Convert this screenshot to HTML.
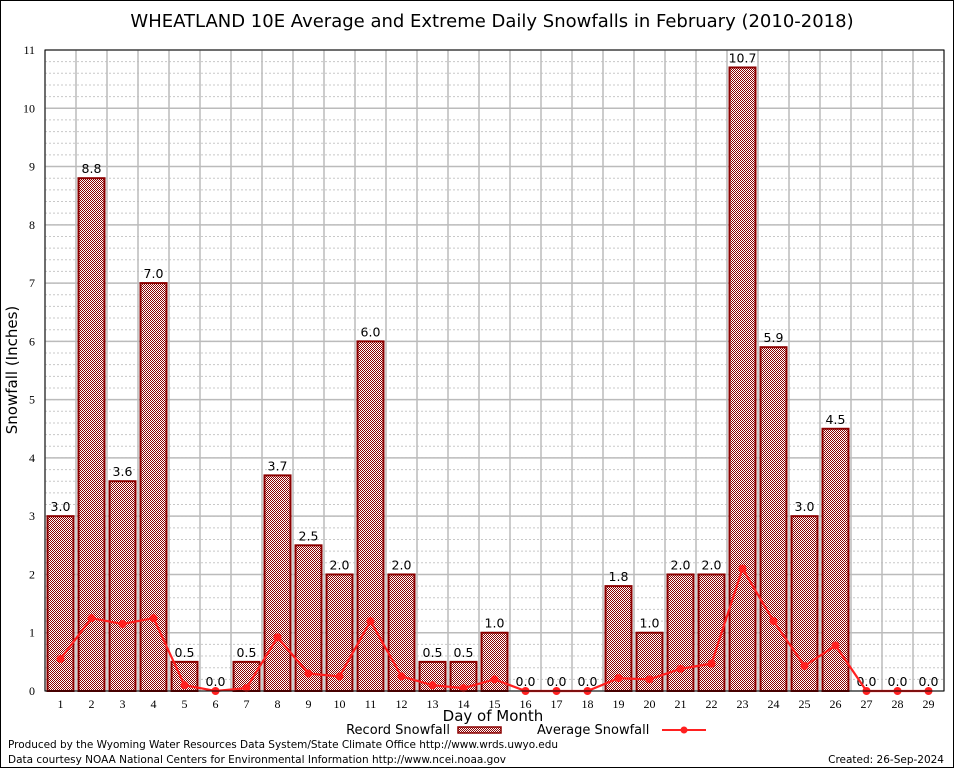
<!DOCTYPE html>
<html><head><meta charset="utf-8"><style>
body{margin:0;background:#fff}
svg{display:block;font-family:"DejaVu Sans","Liberation Sans",sans-serif}
</style></head><body>
<svg id="c" width="954" height="768" xmlns="http://www.w3.org/2000/svg">
<defs>
<pattern id="chk" width="2" height="2" patternUnits="userSpaceOnUse">
<rect width="2" height="2" fill="#fff"/><rect width="1" height="1" fill="#8b0000"/><rect x="1" y="1" width="1" height="1" fill="#8b0000"/>
</pattern>
</defs>
<rect x="0.5" y="0.5" width="953" height="767" fill="#fff" stroke="#000"/>
<text x="492" y="27" font-size="18" text-anchor="middle">WHEATLAND 10E Average and Extreme Daily Snowfalls in February (2010-2018)</text>
<g id="grid"></g>
<g id="bars"></g>
<g id="line"></g>
<g id="axes"></g>
<text x="17" y="370" font-size="15" text-anchor="middle" transform="rotate(-90 17 370)">Snowfall (Inches)</text>
<text x="493" y="721" font-size="15" text-anchor="middle">Day of Month</text>
<g>
<text x="450" y="734" font-size="13" text-anchor="end">Record Snowfall</text>
<rect x="458" y="727" width="43" height="6" fill="url(#chk)" stroke="#8b0000" stroke-width="1.5"/>
<text x="537" y="734" font-size="13">Average Snowfall</text>
<line x1="662" y1="730" x2="706" y2="730" stroke="#ff2020" stroke-width="2"/>
<circle cx="684" cy="730" r="3.5" fill="#ff2020"/>
</g>
<text x="8" y="748" font-size="10.5" textLength="550">Produced by the Wyoming Water Resources Data System/State Climate Office http://www.wrds.uwyo.edu</text>
<text x="8" y="763" font-size="10.5" textLength="498">Data courtesy NOAA National Centers for Environmental Information http://www.ncei.noaa.gov</text>
<text x="944" y="763" font-size="10.5" text-anchor="end">Created:  26-Sep-2024</text>
</svg>
<script>
const days = [1,2,3,4,5,6,7,8,9,10,11,12,13,14,15,16,17,18,19,20,21,22,23,24,25,26,27,28,29];
const recordSnow = [3.0,8.8,3.6,7.0,0.5,0.0,0.5,3.7,2.5,2.0,6.0,2.0,0.5,0.5,1.0,0.0,0.0,0.0,1.8,1.0,2.0,2.0,10.7,5.9,3.0,4.5,0.0,0.0,0.0];
const avgSnow = [0.55,1.25,1.15,1.25,0.1,0.0,0.05,0.92,0.3,0.25,1.2,0.25,0.1,0.05,0.2,0.0,0.0,0.0,0.22,0.2,0.38,0.47,2.1,1.2,0.43,0.78,0.0,0.0,0.0];
const yTicks = [0,1,2,3,4,5,6,7,8,9,10,11];

const NS='http://www.w3.org/2000/svg';
const L=45,R=944,T=50,B=691,yMax=11;
const step=(R-L)/days.length;
const x=d=>L+step*(d-0.5);
const y=v=>B-(B-T)*v/yMax;
function mk(tag,attrs,parent,txt){const e=document.createElementNS(NS,tag);for(const k in attrs)e.setAttribute(k,attrs[k]);if(txt!==undefined)e.textContent=txt;document.getElementById(parent).appendChild(e);return e;}

for(let v=0;v<yMax;v+=0.2){
  const yy=y(v);
  const e=mk('line',{x1:L,x2:R,y1:yy,y2:yy,stroke:'#c8c8c8','stroke-width':1,'stroke-dasharray':'2,2'},'grid');
  
  
}
yTicks.forEach(v=>{
  const e=mk('line',{x1:L,x2:R,y1:y(v),y2:y(v),stroke:'#bbb','stroke-width':1.5},'grid');
  
  
});
for(let i=0;i<=days.length;i++){
  const xx=L+step*i;
  const e=mk('line',{x1:xx,x2:xx,y1:T,y2:B,stroke:'#bbb','stroke-width':1.5},'grid');
  
  
}
days.forEach((d,i)=>{
  const v=recordSnow[i];
  if(v>0){
    const r=mk('rect',{x:x(d)-13,y:y(v),width:26,height:B-y(v),fill:'url(#chk)',stroke:'#8b0000','stroke-width':2},'bars');
    
    
  }
  const t=mk('text',{x:x(d),y:y(v)-5,'font-size':12.5,'text-anchor':'middle'},'bars',v.toFixed(1));
  
  
});
const pts=days.map((d,i)=>x(d)+','+y(avgSnow[i])).join(' ');
const pl=mk('polyline',{points:pts,fill:'none',stroke:'#ff2020','stroke-width':2.2},'line');


days.forEach((d,i)=>{
  const c=mk('circle',{cx:x(d),cy:y(avgSnow[i]),r:4,fill:'#ff2020'},'line');
  
  
});
const ax=mk('rect',{x:L,y:T,width:R-L,height:B-T,fill:'none',stroke:'#000','stroke-width':1},'axes');


yTicks.forEach(v=>{
  const t=mk('text',{x:L-10,y:y(v)+4,'font-size':12,'text-anchor':'end','font-family':'Liberation Serif, serif'},'axes',String(v));
  
  
});
days.forEach(d=>{
  const t=mk('text',{x:x(d),y:B+17,'font-size':12,'text-anchor':'middle','font-family':'Liberation Serif, serif'},'axes',String(d));
  
  
});
</script>
</body></html>
